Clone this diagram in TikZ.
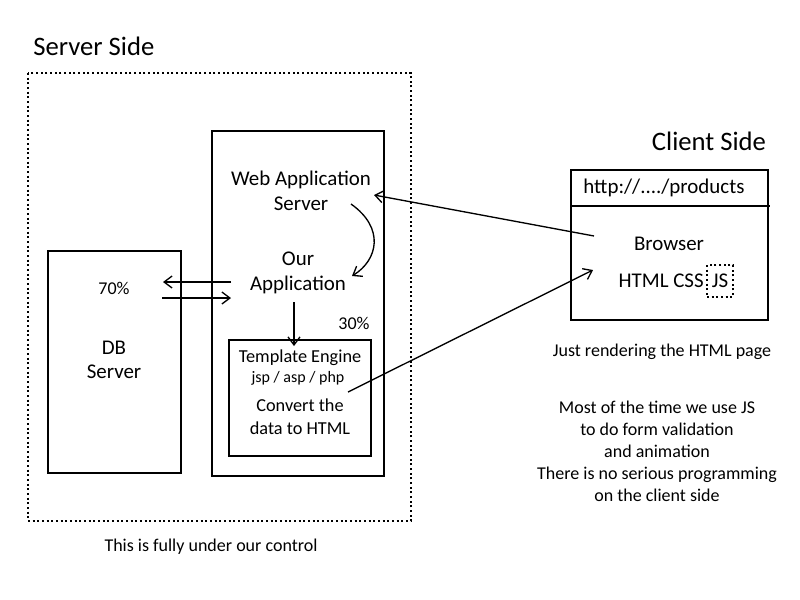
\documentclass[tikz,border=0pt]{standalone}
\usepackage{fontspec}
\setmainfont{Carlito}
\usetikzlibrary{arrows.meta}
\begin{document}
\begin{tikzpicture}[x=0.75pt,y=-0.75pt,
  box/.style={draw,line width=1.5pt},
  txt/.style={font=\fontsize{15.7}{18}\selectfont,align=center,inner sep=0pt},
  small/.style={font=\fontsize{13.7}{15}\selectfont,align=center,inner sep=0pt},
  note/.style={font=\fontsize{13.5}{15.5}\selectfont,align=center,inner sep=0pt},
  arr/.style={line width=1pt,-{Straight Barb[length=6pt,width=9pt]}}]
\useasboundingbox (0,0) rectangle (800,600);
% server side
\node [font=\fontsize{20}{24}\selectfont,anchor=west,inner sep=0pt] (srvtitle) at (33,46) {Server Side};
\draw [dotted,line width=1.5pt] (28,73) rectangle (411,521);
\draw [box] (212,131) rectangle (384,476);
\draw [box] (48,251) rectangle (181,473);
\draw [box] (229,340) rectangle (371,456);
\node [txt] (was) at (301,191) {Web Application\\[1pt]Server};
\node [txt] (app) at (298,273) {Our\\[1pt]Application};
\node [note] (seventy) at (114,288) {70\%};
\node [txt] (db) at (114,360) {DB\\[0.5pt]Server};
\node [note] (thirty) at (354,323) {30\%};
\node [small] (tmpl) at (300,358) {Template Engine};
\node [note,font=\fontsize{12}{14}\selectfont] (jsp) at (298,378) {jsp / asp / php};
\node [small] (conv) at (300,417) {Convert the\\[2pt]data to HTML};
\node [note] (control) at (211,547) {This is fully under our control};
% client side
\node [font=\fontsize{20}{24}\selectfont,inner sep=0pt] (clttitle) at (709,141) {Client Side};
\draw [box] (571,170) rectangle (768,320);
\draw [line width=1.5pt] (571,206) -- (770,206);
\node [txt] (url) at (664,188) {http://..../products};
\node [txt] (browser) at (669,244) {Browser};
\node [txt,draw,dotted,line width=1.5pt,minimum width=19.5pt,minimum height=24pt] (js) at (720,281) {JS};
\node [txt,anchor=east] (langs) at (704,281) {HTML CSS};
\node [note] (render) at (662,352) {Just rendering the HTML page};
\node [note] (jsnote) at (657,451) {Most of the time we use JS\\[1pt]to do form validation\\[1pt]and animation\\[1pt]There is no serious programming\\[1pt]on the client side};
% connectors
\coordinate (reqstart) at (594,236);
\coordinate (reqend) at (374,195);
\draw [arr] (reqstart) -- (reqend);
\draw [arr] (351,204) .. controls (385,228) and (378,260) .. (352,276);
\draw [arr] (231,282) -- (163,282);
\draw [arr] (162,298) -- (231,298);
\draw [arr] (294,302) -- (294,346);
\coordinate (htmlstart) at (348,392);
\coordinate (htmlend) at (593,270);
\draw [arr] (htmlstart) -- (htmlend);
\end{tikzpicture}
\end{document}
